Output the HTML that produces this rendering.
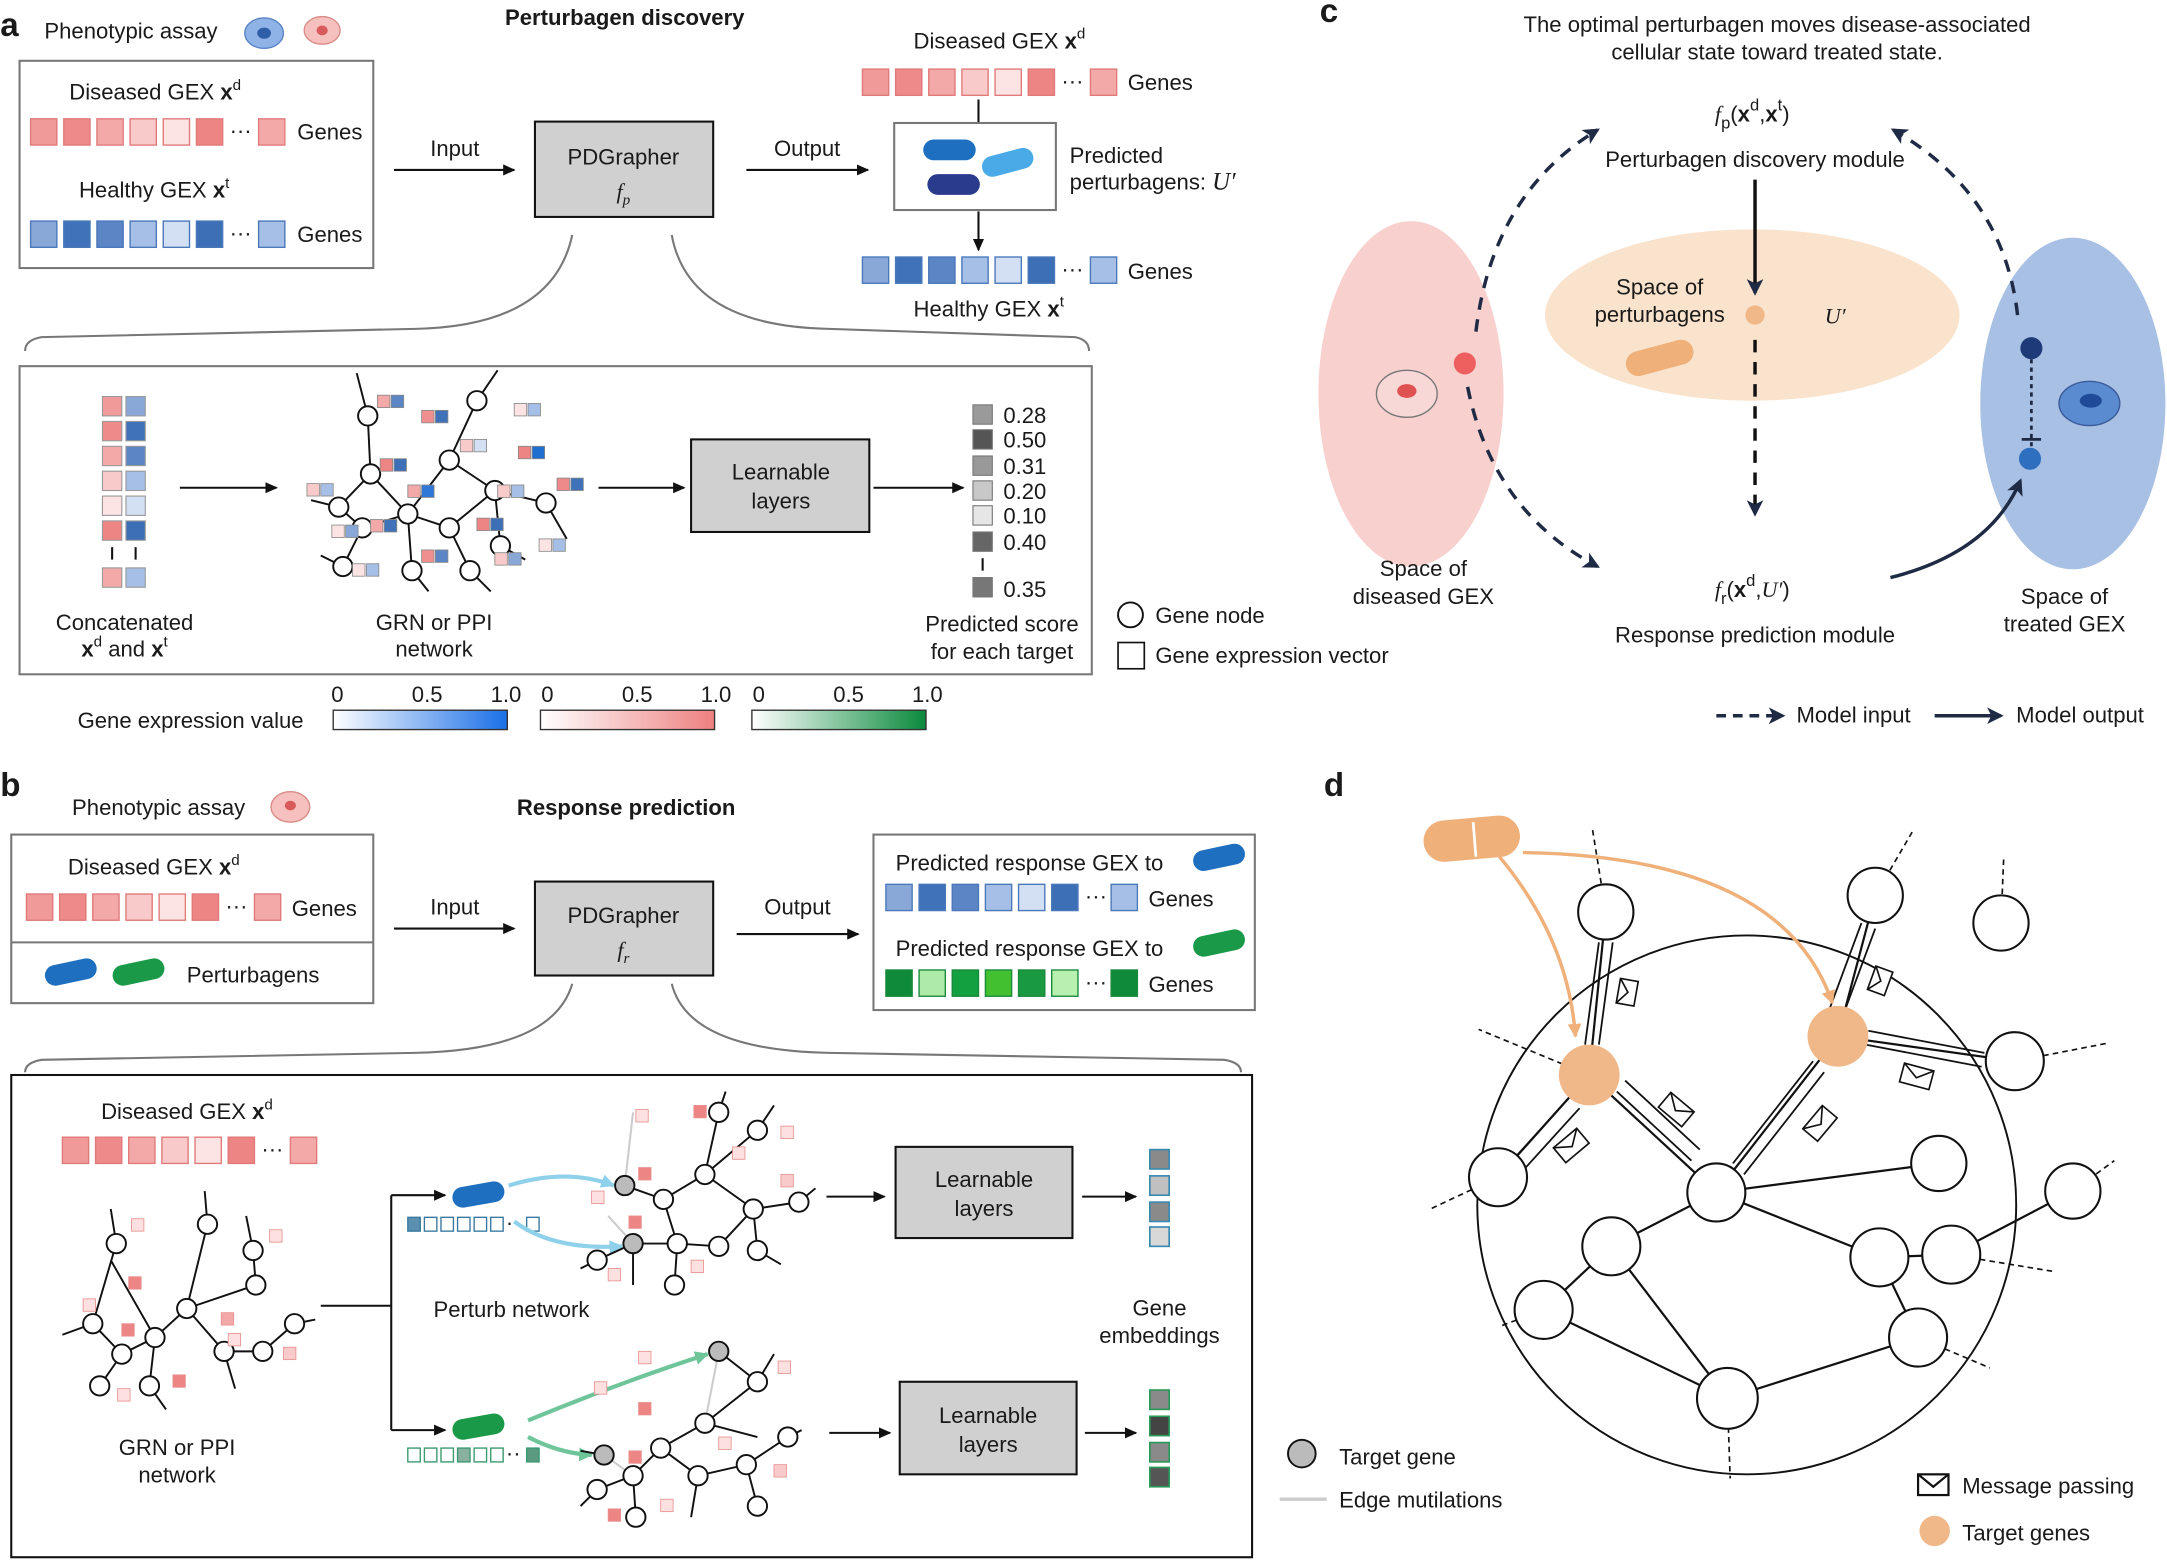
<!DOCTYPE html>
<html><head><meta charset="utf-8"><style>
html,body{margin:0;padding:0;background:#fff}
svg{display:block}
text{font-family:"Liberation Sans",sans-serif;font-size:16px;fill:#1a1a1a}
.b{font-weight:bold}
.c{text-anchor:middle}
.L{font-size:24px;font-weight:bold}
.u{font-family:"Liberation Serif",serif;font-style:italic}
</style></head><body>
<svg width="2167" height="1560" viewBox="0 0 1568 1129" xmlns="http://www.w3.org/2000/svg">
<defs>
<marker id="ah" markerWidth="10" markerHeight="10" refX="8" refY="5" orient="auto" markerUnits="userSpaceOnUse"><path d="M0,1 L9,5 L0,9 z" fill="#111"/></marker>
<marker id="an" markerWidth="14" markerHeight="14" refX="10" refY="6" orient="auto" markerUnits="userSpaceOnUse"><path d="M0,0 L12,6 L0,12 L3,6 z" fill="#1f2a44"/></marker>
<marker id="ap" markerWidth="12" markerHeight="12" refX="9" refY="6" orient="auto" markerUnits="userSpaceOnUse"><path d="M0,1 L10,6 L0,11 z" fill="#efb07a"/></marker>
<marker id="alb" markerWidth="12" markerHeight="12" refX="9" refY="6" orient="auto" markerUnits="userSpaceOnUse"><path d="M0,1 L10,6 L0,11 z" fill="#8fd0ea"/></marker>
<marker id="ag" markerWidth="12" markerHeight="12" refX="9" refY="6" orient="auto" markerUnits="userSpaceOnUse"><path d="M0,1 L10,6 L0,11 z" fill="#6fc59a"/></marker>
<linearGradient id="gb"><stop offset="0" stop-color="#fff"/><stop offset="1" stop-color="#1a6fe8"/></linearGradient>
<linearGradient id="gp"><stop offset="0" stop-color="#fff"/><stop offset="1" stop-color="#ee8080"/></linearGradient>
<linearGradient id="gg"><stop offset="0" stop-color="#fff"/><stop offset="1" stop-color="#0a8a3c"/></linearGradient>
</defs>

<!-- ===== Panel a ===== -->
<text x="0" y="26" class="L">a</text>
<text x="32" y="28">Phenotypic assay</text>
<ellipse cx="191" cy="24" rx="14" ry="11" fill="#8fb3e6" stroke="#5a85c5"/><ellipse cx="191" cy="24" rx="5" ry="4" fill="#2f5ea8"/>
<ellipse cx="233" cy="22" rx="13" ry="10" fill="#f5c0bd" stroke="#d98c88"/><ellipse cx="233" cy="22" rx="4" ry="3.5" fill="#d85a5a"/>
<text x="452" y="18" class="b c">Perturbagen discovery</text>

<rect x="14" y="44" width="256" height="150" fill="none" stroke="#777" stroke-width="1.5"/>
<text x="50" y="72">Diseased GEX <tspan class="b">x</tspan><tspan font-size="11" dy="-7">d</tspan></text>
<g stroke="#e07a7a" stroke-width="1">
<rect x="22" y="86" width="19" height="19" fill="#f09a9a"/><rect x="46" y="86" width="19" height="19" fill="#ee8a8a"/><rect x="70" y="86" width="19" height="19" fill="#f4a9a9"/><rect x="94" y="86" width="19" height="19" fill="#f8caca"/><rect x="118" y="86" width="19" height="19" fill="#fde4e4"/><rect x="142" y="86" width="19" height="19" fill="#ee8585"/><rect x="187" y="86" width="19" height="19" fill="#f4a9a9"/></g>
<text x="166" y="100">···</text><text x="215" y="101">Genes</text>
<text x="57" y="143">Healthy GEX <tspan class="b">x</tspan><tspan font-size="11" dy="-7">t</tspan></text>
<g stroke="#4a78bb" stroke-width="1">
<rect x="22" y="160" width="19" height="19" fill="#89a8d8"/><rect x="46" y="160" width="19" height="19" fill="#3f72b8"/><rect x="70" y="160" width="19" height="19" fill="#5b85c5"/><rect x="94" y="160" width="19" height="19" fill="#a6bfe6"/><rect x="118" y="160" width="19" height="19" fill="#d3e0f4"/><rect x="142" y="160" width="19" height="19" fill="#3c6fb5"/><rect x="187" y="160" width="19" height="19" fill="#a6bfe6"/></g>
<text x="166" y="174">···</text><text x="215" y="175">Genes</text>

<line x1="285" y1="123" x2="372" y2="123" stroke="#111" stroke-width="1.5" marker-end="url(#ah)"/>
<text x="329" y="113" class="c">Input</text>
<rect x="387" y="88" width="129" height="69" fill="#d0d0d0" stroke="#111" stroke-width="1.5"/>
<text x="451" y="119" class="c">PDGrapher</text><text x="451" y="144" class="c u">f<tspan font-size="11" dy="4">p</tspan></text>
<line x1="540" y1="123" x2="628" y2="123" stroke="#111" stroke-width="1.5" marker-end="url(#ah)"/>
<text x="584" y="113" class="c">Output</text>

<text x="661" y="35">Diseased GEX <tspan class="b">x</tspan><tspan font-size="11" dy="-7">d</tspan></text>
<g stroke="#e07a7a"><rect x="624" y="50" width="19" height="19" fill="#f09a9a"/><rect x="648" y="50" width="19" height="19" fill="#ee8a8a"/><rect x="672" y="50" width="19" height="19" fill="#f4a9a9"/><rect x="696" y="50" width="19" height="19" fill="#f8caca"/><rect x="720" y="50" width="19" height="19" fill="#fde4e4"/><rect x="744" y="50" width="19" height="19" fill="#ee8585"/><rect x="789" y="50" width="19" height="19" fill="#f4a9a9"/></g>
<text x="768" y="64">···</text><text x="816" y="65">Genes</text>
<line x1="708" y1="72" x2="708" y2="89" stroke="#111" stroke-width="1.5"/>
<rect x="647" y="89" width="117" height="63" fill="#fff" stroke="#777" stroke-width="1.5"/>
<rect x="668" y="101" width="38" height="15" rx="7.5" fill="#1e6fc0"/><rect x="710" y="110" width="38" height="15" rx="7.5" fill="#4aaae8" transform="rotate(-15 729 117)"/><rect x="671" y="126" width="38" height="15" rx="7.5" fill="#2a3a8c"/>
<text x="774" y="118">Predicted</text><text x="774" y="137">perturbagens: <tspan class="u" font-size="18">U′</tspan></text>
<line x1="708" y1="153" x2="708" y2="181" stroke="#111" stroke-width="1.5" marker-end="url(#ah)"/>
<g stroke="#4a78bb"><rect x="624" y="186" width="19" height="19" fill="#89a8d8"/><rect x="648" y="186" width="19" height="19" fill="#3f72b8"/><rect x="672" y="186" width="19" height="19" fill="#5b85c5"/><rect x="696" y="186" width="19" height="19" fill="#a6bfe6"/><rect x="720" y="186" width="19" height="19" fill="#d3e0f4"/><rect x="744" y="186" width="19" height="19" fill="#3c6fb5"/><rect x="789" y="186" width="19" height="19" fill="#a6bfe6"/></g>
<text x="768" y="200">···</text><text x="816" y="202">Genes</text>
<text x="661" y="229">Healthy GEX <tspan class="b">x</tspan><tspan font-size="11" dy="-7">t</tspan></text>

<path d="M414,170 Q400,236 300,238 L30,244 Q18,246 18,254" fill="none" stroke="#777" stroke-width="1.5"/>
<path d="M486,170 Q498,236 600,238 L778,244 Q788,246 788,254" fill="none" stroke="#777" stroke-width="1.5"/>
<rect x="14" y="265" width="776" height="223" fill="none" stroke="#777" stroke-width="1.5"/>

<g stroke="#999" stroke-width="0.8">
<rect x="74" y="287" width="14" height="14" fill="#f09a9a"/><rect x="91" y="287" width="14" height="14" fill="#89a8d8"/>
<rect x="74" y="305" width="14" height="14" fill="#ee8a8a"/><rect x="91" y="305" width="14" height="14" fill="#3f72b8"/>
<rect x="74" y="323" width="14" height="14" fill="#f4a9a9"/><rect x="91" y="323" width="14" height="14" fill="#5b85c5"/>
<rect x="74" y="341" width="14" height="14" fill="#f8caca"/><rect x="91" y="341" width="14" height="14" fill="#a6bfe6"/>
<rect x="74" y="359" width="14" height="14" fill="#fde4e4"/><rect x="91" y="359" width="14" height="14" fill="#d3e0f4"/>
<rect x="74" y="377" width="14" height="14" fill="#ee8585"/><rect x="91" y="377" width="14" height="14" fill="#3c6fb5"/>
<rect x="74" y="411" width="14" height="14" fill="#f4a9a9"/><rect x="91" y="411" width="14" height="14" fill="#a6bfe6"/></g>
<line x1="81" y1="396" x2="81" y2="405" stroke="#111" stroke-width="1.5"/><line x1="98" y1="396" x2="98" y2="405" stroke="#111" stroke-width="1.5"/>
<text x="90" y="456" class="c">Concatenated</text><text x="90" y="475" class="c"><tspan class="b">x</tspan><tspan font-size="11" dy="-7">d</tspan><tspan dy="7"> and </tspan><tspan class="b">x</tspan><tspan font-size="11" dy="-7">t</tspan></text>
<line x1="130" y1="353" x2="200" y2="353" stroke="#111" stroke-width="1.5" marker-end="url(#ah)"/>

<g stroke="#111" stroke-width="1.4" fill="none">
<path d="M266,301 L268,343 L245,367 L262,382 L295,372 L325,333 L345,290 M325,333 L358,355 L395,364 M295,372 L325,382 L340,413 M295,372 L298,413 M262,382 L248,410 M268,343 L295,372 M325,382 L358,355 M358,355 L362,395 M245,367 L225,362 M266,301 L258,270 M345,290 L360,268 M395,364 L410,390 M248,410 L232,402 M298,413 L310,428 M340,413 L355,428 M362,395 L380,405"/>
</g>
<g fill="#fff" stroke="#111" stroke-width="1.4">
<circle cx="266" cy="301" r="7"/><circle cx="268" cy="343" r="7"/><circle cx="245" cy="367" r="7"/><circle cx="262" cy="382" r="7"/><circle cx="295" cy="372" r="7"/><circle cx="325" cy="333" r="7"/><circle cx="345" cy="290" r="7"/><circle cx="358" cy="355" r="7"/><circle cx="395" cy="364" r="7"/><circle cx="325" cy="382" r="7"/><circle cx="340" cy="413" r="7"/><circle cx="298" cy="413" r="7"/><circle cx="248" cy="410" r="7"/><circle cx="362" cy="395" r="7"/></g>
<g stroke="#888" stroke-width="0.6">
<rect x="273" y="286" width="9" height="9" fill="#f4a9a9"/><rect x="283" y="286" width="9" height="9" fill="#5b85c5"/>
<rect x="305" y="297" width="9" height="9" fill="#f08f8f"/><rect x="315" y="297" width="9" height="9" fill="#3f72b8"/>
<rect x="372" y="292" width="9" height="9" fill="#fde4e4"/><rect x="382" y="292" width="9" height="9" fill="#a6bfe6"/>
<rect x="333" y="318" width="9" height="9" fill="#f8caca"/><rect x="343" y="318" width="9" height="9" fill="#d3e0f4"/>
<rect x="375" y="323" width="9" height="9" fill="#ee8585"/><rect x="385" y="323" width="9" height="9" fill="#1e6fd0"/>
<rect x="275" y="332" width="9" height="9" fill="#ee8585"/><rect x="285" y="332" width="9" height="9" fill="#3c6fb5"/>
<rect x="222" y="350" width="9" height="9" fill="#f8caca"/><rect x="232" y="350" width="9" height="9" fill="#a6bfe6"/>
<rect x="295" y="351" width="9" height="9" fill="#f4a9a9"/><rect x="305" y="351" width="9" height="9" fill="#2f78d8"/>
<rect x="360" y="351" width="9" height="9" fill="#f8caca"/><rect x="370" y="351" width="9" height="9" fill="#a6bfe6"/>
<rect x="403" y="346" width="9" height="9" fill="#ee8a8a"/><rect x="413" y="346" width="9" height="9" fill="#3f72b8"/>
<rect x="240" y="380" width="9" height="9" fill="#fde4e4"/><rect x="250" y="380" width="9" height="9" fill="#89a8d8"/>
<rect x="268" y="376" width="9" height="9" fill="#f4a9a9"/><rect x="278" y="376" width="9" height="9" fill="#3f72b8"/>
<rect x="345" y="375" width="9" height="9" fill="#ee8585"/><rect x="355" y="375" width="9" height="9" fill="#3c6fb5"/>
<rect x="390" y="390" width="9" height="9" fill="#fde4e4"/><rect x="400" y="390" width="9" height="9" fill="#a6bfe6"/>
<rect x="305" y="398" width="9" height="9" fill="#f08f8f"/><rect x="315" y="398" width="9" height="9" fill="#5b85c5"/>
<rect x="358" y="400" width="9" height="9" fill="#f8caca"/><rect x="368" y="400" width="9" height="9" fill="#89a8d8"/>
<rect x="255" y="408" width="9" height="9" fill="#fde4e4"/><rect x="265" y="408" width="9" height="9" fill="#a6bfe6"/></g>
<text x="314" y="456" class="c">GRN or PPI</text><text x="314" y="475" class="c">network</text>
<line x1="433" y1="353" x2="495" y2="353" stroke="#111" stroke-width="1.5" marker-end="url(#ah)"/>
<rect x="500" y="318" width="129" height="67" fill="#d0d0d0" stroke="#111" stroke-width="1.5"/>
<text x="565" y="347" class="c">Learnable</text><text x="565" y="368" class="c">layers</text>
<line x1="632" y1="353" x2="697" y2="353" stroke="#111" stroke-width="1.5" marker-end="url(#ah)"/>
<g stroke="#777" stroke-width="0.8">
<rect x="704" y="293" width="14" height="14" fill="#9a9a9a"/><rect x="704" y="311" width="14" height="14" fill="#555"/><rect x="704" y="330" width="14" height="14" fill="#999"/><rect x="704" y="348" width="14" height="14" fill="#c8c8c8"/><rect x="704" y="366" width="14" height="14" fill="#e6e6e6"/><rect x="704" y="385" width="14" height="14" fill="#666"/><rect x="704" y="418" width="14" height="14" fill="#777"/></g>
<line x1="711" y1="404" x2="711" y2="413" stroke="#111" stroke-width="1.5"/>
<text x="726" y="306">0.28</text><text x="726" y="324">0.50</text><text x="726" y="343">0.31</text><text x="726" y="361">0.20</text><text x="726" y="379">0.10</text><text x="726" y="398">0.40</text><text x="726" y="432">0.35</text>
<text x="725" y="457" class="c">Predicted score</text><text x="725" y="477" class="c">for each target</text>
<circle cx="818" cy="445" r="9" fill="#fff" stroke="#111" stroke-width="1.4"/><text x="836" y="451">Gene node</text>
<rect x="809" y="465" width="19" height="19" fill="#fff" stroke="#111" stroke-width="1.2"/><text x="836" y="480">Gene expression vector</text>
<text x="56" y="527">Gene expression value</text>
<rect x="241" y="514" width="126" height="14" fill="url(#gb)" stroke="#333"/>
<rect x="391" y="514" width="126" height="14" fill="url(#gp)" stroke="#333"/>
<rect x="544" y="514" width="126" height="14" fill="url(#gg)" stroke="#333"/>
<text x="244" y="508" class="c">0</text><text x="309" y="508" class="c">0.5</text><text x="366" y="508" class="c">1.0</text>
<text x="396" y="508" class="c">0</text><text x="461" y="508" class="c">0.5</text><text x="518" y="508" class="c">1.0</text>
<text x="549" y="508" class="c">0</text><text x="614" y="508" class="c">0.5</text><text x="671" y="508" class="c">1.0</text>

<!-- ===== Panel c ===== -->
<text x="955" y="16" class="L">c</text>
<text x="1286" y="23" class="c">The optimal perturbagen moves disease-associated</text>
<text x="1286" y="43" class="c">cellular state toward treated state.</text>
<ellipse cx="1021" cy="285" rx="67" ry="125" fill="#f8d0ce"/>
<ellipse cx="1500" cy="292" rx="67" ry="120" fill="#a8c0e4"/>
<ellipse cx="1268" cy="228" rx="150" ry="62" fill="#fae3cc"/>
<text x="1268" y="88" class="c" font-size="20"><tspan class="u">f</tspan><tspan font-size="12" dy="5">p</tspan><tspan dy="-5">(</tspan><tspan class="b">x</tspan><tspan font-size="12" dy="-8">d</tspan><tspan dy="8">,</tspan><tspan class="b">x</tspan><tspan font-size="12" dy="-8">t</tspan><tspan dy="8">)</tspan></text>
<text x="1270" y="121" class="c">Perturbagen discovery module</text>
<path d="M1068,240 Q1080,140 1156,94" fill="none" stroke="#1f2a44" stroke-width="2.5" stroke-dasharray="9,7" marker-end="url(#an)"/>
<path d="M1460,228 Q1450,140 1370,94" fill="none" stroke="#1f2a44" stroke-width="2.5" stroke-dasharray="9,7" marker-end="url(#an)"/>
<path d="M1062,280 Q1080,370 1156,410" fill="none" stroke="#1f2a44" stroke-width="2.5" stroke-dasharray="9,7" marker-end="url(#an)"/>
<line x1="1270" y1="130" x2="1270" y2="212" stroke="#111" stroke-width="2.5" marker-end="url(#an)"/>
<line x1="1270" y1="246" x2="1270" y2="372" stroke="#111" stroke-width="2.5" stroke-dasharray="9,7" marker-end="url(#an)"/>
<circle cx="1270" cy="228" r="7" fill="#f0b888"/>
<text x="1201" y="213" class="c">Space of</text><text x="1201" y="233" class="c">perturbagens</text>
<text x="1328" y="234" class="c u" font-size="19">U′</text>
<rect x="1176" y="250" width="50" height="18" rx="9" fill="#efb07a" transform="rotate(-15 1201 259)"/>
<circle cx="1060" cy="263" r="8" fill="#ee6060"/>
<ellipse cx="1018" cy="285" rx="22" ry="17" fill="#f8d8d6" stroke="#777"/><ellipse cx="1018" cy="283" rx="7" ry="5" fill="#e05252"/>
<text x="1030" y="417" class="c">Space of</text><text x="1030" y="437" class="c">diseased GEX</text>
<text x="1268" y="432" class="c" font-size="20"><tspan class="u">f</tspan><tspan font-size="12" dy="5">r</tspan><tspan dy="-5">(</tspan><tspan class="b">x</tspan><tspan font-size="12" dy="-8">d</tspan><tspan dy="8">,</tspan><tspan class="u">U′</tspan><tspan>)</tspan></text>
<text x="1270" y="465" class="c">Response prediction module</text>
<path d="M1368,418 Q1440,400 1462,348" fill="none" stroke="#1f2a44" stroke-width="2.5" marker-end="url(#an)"/>
<line x1="1470" y1="260" x2="1470" y2="324" stroke="#1f2a44" stroke-width="2" stroke-dasharray="3,3"/>
<line x1="1463" y1="318" x2="1477" y2="318" stroke="#1f2a44" stroke-width="2"/>
<circle cx="1470" cy="252" r="8" fill="#1f3a78"/><circle cx="1469" cy="332" r="8" fill="#2f6fc0"/>
<ellipse cx="1512" cy="292" rx="22" ry="16" fill="#5a8ad0" stroke="#3a5a9a"/><ellipse cx="1513" cy="290" rx="8" ry="5" fill="#1f4a98"/>
<text x="1494" y="437" class="c">Space of</text><text x="1494" y="457" class="c">treated GEX</text>
<line x1="1242" y1="518" x2="1290" y2="518" stroke="#1f2a44" stroke-width="2.5" stroke-dasharray="7,5" marker-end="url(#an)"/>
<text x="1300" y="523">Model input</text>
<line x1="1400" y1="518" x2="1448" y2="518" stroke="#1f2a44" stroke-width="2.5" marker-end="url(#an)"/>
<text x="1459" y="523">Model output</text>

<!-- ===== Panel b ===== -->
<text x="0" y="576" class="L">b</text>
<text x="52" y="590">Phenotypic assay</text>
<ellipse cx="210" cy="584" rx="14" ry="11" fill="#f5c0bd" stroke="#d98c88"/><ellipse cx="210" cy="583" rx="4" ry="3.5" fill="#d85a5a"/>
<text x="453" y="590" class="b c">Response prediction</text>
<rect x="8" y="604" width="262" height="122" fill="none" stroke="#777" stroke-width="1.5"/>
<line x1="8" y1="682" x2="270" y2="682" stroke="#777" stroke-width="1.5"/>
<text x="49" y="633">Diseased GEX <tspan class="b">x</tspan><tspan font-size="11" dy="-7">d</tspan></text>
<g stroke="#e07a7a"><rect x="19" y="647" width="19" height="19" fill="#f09a9a"/><rect x="43" y="647" width="19" height="19" fill="#ee8a8a"/><rect x="67" y="647" width="19" height="19" fill="#f4a9a9"/><rect x="91" y="647" width="19" height="19" fill="#f8caca"/><rect x="115" y="647" width="19" height="19" fill="#fde4e4"/><rect x="139" y="647" width="19" height="19" fill="#ee8585"/><rect x="184" y="647" width="19" height="19" fill="#f4a9a9"/></g>
<text x="163" y="661">···</text><text x="211" y="663">Genes</text>
<rect x="32" y="696" width="38" height="15" rx="7.5" fill="#1e6fc0" transform="rotate(-12 51 703)"/>
<rect x="81" y="696" width="38" height="15" rx="7.5" fill="#1a9a48" transform="rotate(-12 100 703)"/>
<text x="135" y="711">Perturbagens</text>
<line x1="285" y1="672" x2="372" y2="672" stroke="#111" stroke-width="1.5" marker-end="url(#ah)"/>
<text x="329" y="662" class="c">Input</text>
<rect x="387" y="638" width="129" height="68" fill="#d0d0d0" stroke="#111" stroke-width="1.5"/>
<text x="451" y="668" class="c">PDGrapher</text><text x="451" y="693" class="c u">f<tspan font-size="11" dy="4">r</tspan></text>
<line x1="533" y1="676" x2="621" y2="676" stroke="#111" stroke-width="1.5" marker-end="url(#ah)"/>
<text x="577" y="662" class="c">Output</text>
<rect x="632" y="604" width="276" height="127" fill="none" stroke="#777" stroke-width="1.5"/>
<text x="648" y="630">Predicted response GEX to</text>
<rect x="863" y="613" width="38" height="15" rx="7.5" fill="#1e6fc0" transform="rotate(-12 882 620)"/>
<g stroke="#4a78bb"><rect x="641" y="640" width="19" height="19" fill="#89a8d8"/><rect x="665" y="640" width="19" height="19" fill="#3f72b8"/><rect x="689" y="640" width="19" height="19" fill="#5b85c5"/><rect x="713" y="640" width="19" height="19" fill="#a6bfe6"/><rect x="737" y="640" width="19" height="19" fill="#d3e0f4"/><rect x="761" y="640" width="19" height="19" fill="#3c6fb5"/><rect x="804" y="640" width="19" height="19" fill="#a6bfe6"/></g>
<text x="785" y="654">···</text><text x="831" y="656">Genes</text>
<text x="648" y="692">Predicted response GEX to</text>
<rect x="863" y="675" width="38" height="15" rx="7.5" fill="#1a9a48" transform="rotate(-12 882 682)"/>
<g stroke="#1a8a3c"><rect x="641" y="702" width="19" height="19" fill="#0f8a3a"/><rect x="665" y="702" width="19" height="19" fill="#aeeaa8"/><rect x="689" y="702" width="19" height="19" fill="#12a040"/><rect x="713" y="702" width="19" height="19" fill="#42c030"/><rect x="737" y="702" width="19" height="19" fill="#1a9a40"/><rect x="761" y="702" width="19" height="19" fill="#b8f0b0"/><rect x="804" y="702" width="19" height="19" fill="#0f8a3a"/></g>
<text x="785" y="716">···</text><text x="831" y="718">Genes</text>

<path d="M414,712 Q400,760 300,762 L30,767 Q18,769 18,776" fill="none" stroke="#777" stroke-width="1.5"/>
<path d="M486,712 Q498,760 600,762 L886,767 Q898,769 898,776" fill="none" stroke="#777" stroke-width="1.5"/>
<rect x="8" y="778" width="898" height="349" fill="none" stroke="#111" stroke-width="1.5"/>
<text x="73" y="810">Diseased GEX <tspan class="b">x</tspan><tspan font-size="11" dy="-7">d</tspan></text>
<g stroke="#e07a7a"><rect x="45" y="823" width="19" height="19" fill="#f09a9a"/><rect x="69" y="823" width="19" height="19" fill="#ee8a8a"/><rect x="93" y="823" width="19" height="19" fill="#f4a9a9"/><rect x="117" y="823" width="19" height="19" fill="#f8caca"/><rect x="141" y="823" width="19" height="19" fill="#fde4e4"/><rect x="165" y="823" width="19" height="19" fill="#ee8585"/><rect x="210" y="823" width="19" height="19" fill="#f4a9a9"/></g>
<text x="189" y="837">···</text>

<g stroke="#111" stroke-width="1.4" fill="none">
<path d="M84,900 L67,958 L88,980 L112,968 L135,947 L150,886 M112,968 L80,912 M135,947 L185,930 L183,905 M135,947 L162,978 L190,978 L213,958 M88,980 L72,1003 M112,968 L108,1003 M150,886 L148,862 M84,900 L80,875 M213,958 L228,955 M183,905 L178,880 M67,958 L45,966 M108,1003 L120,1020 M162,978 L170,1005"/></g>
<g fill="#fff" stroke="#111" stroke-width="1.4">
<circle cx="84" cy="900" r="7"/><circle cx="150" cy="886" r="7"/><circle cx="67" cy="958" r="7"/><circle cx="88" cy="980" r="7"/><circle cx="112" cy="968" r="7"/><circle cx="135" cy="947" r="7"/><circle cx="185" cy="930" r="7"/><circle cx="183" cy="905" r="7"/><circle cx="162" cy="978" r="7"/><circle cx="190" cy="978" r="7"/><circle cx="213" cy="958" r="7"/><circle cx="72" cy="1003" r="7"/><circle cx="108" cy="1003" r="7"/></g>
<g stroke="#e89090" stroke-width="0.6"><rect x="95" y="882" width="9" height="9" fill="#fde0e0"/><rect x="93" y="924" width="9" height="9" fill="#ee8585"/><rect x="60" y="940" width="9" height="9" fill="#fde0e0"/><rect x="195" y="890" width="9" height="9" fill="#fde0e0"/><rect x="160" y="950" width="9" height="9" fill="#f4a9a9"/><rect x="205" y="975" width="9" height="9" fill="#f8caca"/><rect x="125" y="995" width="9" height="9" fill="#ee8585"/><rect x="85" y="1005" width="9" height="9" fill="#fde0e0"/><rect x="165" y="965" width="9" height="9" fill="#fde0e0"/><rect x="88" y="958" width="9" height="9" fill="#ee8585"/></g>
<text x="128" y="1053" class="c">GRN or PPI</text><text x="128" y="1073" class="c">network</text>

<path d="M232,945 L283,945 M283,865 L283,1035" fill="none" stroke="#111" stroke-width="1.5"/>
<line x1="283" y1="865" x2="322" y2="865" stroke="#111" stroke-width="1.5" marker-end="url(#ah)"/>
<line x1="283" y1="1035" x2="322" y2="1035" stroke="#111" stroke-width="1.5" marker-end="url(#ah)"/>
<rect x="327" y="857" width="38" height="15" rx="7.5" fill="#1e6fc0" transform="rotate(-10 346 864)"/>
<g fill="#fff" stroke="#3a7aa0" stroke-width="1"><rect x="295" y="881" width="9" height="10" fill="#5b8fb0"/><rect x="307" y="881" width="9" height="10"/><rect x="319" y="881" width="9" height="10"/><rect x="331" y="881" width="9" height="10"/><rect x="343" y="881" width="9" height="10"/><rect x="355" y="881" width="9" height="10"/><rect x="381" y="881" width="9" height="10"/></g>
<text x="366" y="890" font-size="12">··</text>
<path d="M368,858 Q410,845 444,858" fill="none" stroke="#8fd0ea" stroke-width="3" marker-end="url(#alb)"/>
<path d="M372,884 Q400,905 450,902" fill="none" stroke="#8fd0ea" stroke-width="3" marker-end="url(#alb)"/>
<g stroke="#111" stroke-width="1.4" fill="none">
<path d="M452,858 L480,868 L510,850 L520,805 M510,850 L548,818 M510,850 L545,875 L578,870 M545,875 L548,905 M480,868 L490,900 L458,900 L432,912 M490,900 L520,902 M545,875 L520,902 M458,900 L458,930 M490,900 L488,930 M548,905 L565,915 M578,870 L590,860 M432,912 L420,918 M548,818 L560,800 M520,805 L525,790"/></g>
<line x1="452" y1="858" x2="458" y2="805" stroke="#ccc" stroke-width="1.5"/><line x1="458" y1="900" x2="440" y2="880" stroke="#ccc" stroke-width="1.5"/>
<g fill="#fff" stroke="#111" stroke-width="1.4"><circle cx="480" cy="868" r="7"/><circle cx="510" cy="850" r="7"/><circle cx="520" cy="805" r="7"/><circle cx="548" cy="818" r="7"/><circle cx="545" cy="875" r="7"/><circle cx="578" cy="870" r="7"/><circle cx="548" cy="905" r="7"/><circle cx="490" cy="900" r="7"/><circle cx="520" cy="902" r="7"/><circle cx="432" cy="912" r="7"/><circle cx="488" cy="930" r="7"/></g>
<circle cx="452" cy="858" r="7" fill="#bbb" stroke="#111" stroke-width="1.4"/><circle cx="458" cy="900" r="7" fill="#bbb" stroke="#111" stroke-width="1.4"/>
<g stroke="#e89090" stroke-width="0.6"><rect x="460" y="803" width="9" height="9" fill="#fde0e0"/><rect x="502" y="800" width="9" height="9" fill="#ee8585"/><rect x="530" y="830" width="9" height="9" fill="#fde0e0"/><rect x="565" y="815" width="9" height="9" fill="#fde0e0"/><rect x="462" y="845" width="9" height="9" fill="#ee8585"/><rect x="428" y="862" width="9" height="9" fill="#fde0e0"/><rect x="455" y="880" width="9" height="9" fill="#ee8585"/><rect x="565" y="850" width="9" height="9" fill="#f8caca"/><rect x="500" y="912" width="9" height="9" fill="#fde0e0"/><rect x="440" y="918" width="9" height="9" fill="#fde0e0"/></g>
<text x="370" y="953" class="c">Perturb network</text>
<line x1="598" y1="866" x2="640" y2="866" stroke="#111" stroke-width="1.5" marker-end="url(#ah)"/>
<rect x="648" y="830" width="128" height="66" fill="#d0d0d0" stroke="#111" stroke-width="1.5"/>
<text x="712" y="859" class="c">Learnable</text><text x="712" y="880" class="c">layers</text>
<line x1="783" y1="866" x2="822" y2="866" stroke="#111" stroke-width="1.5" marker-end="url(#ah)"/>
<g stroke="#3a8ab0" stroke-width="1.2"><rect x="832" y="832" width="14" height="14" fill="#8a8a8a"/><rect x="832" y="851" width="14" height="14" fill="#c0c0c0"/><rect x="832" y="870" width="14" height="14" fill="#8a8a8a"/><rect x="832" y="888" width="14" height="14" fill="#d8d8d8"/></g>
<text x="839" y="952" class="c">Gene</text><text x="839" y="972" class="c">embeddings</text>

<rect x="327" y="1025" width="38" height="15" rx="7.5" fill="#1a9a48" transform="rotate(-10 346 1032)"/>
<g fill="#fff" stroke="#3a9a70" stroke-width="1"><rect x="295" y="1048" width="9" height="10"/><rect x="307" y="1048" width="9" height="10"/><rect x="319" y="1048" width="9" height="10"/><rect x="331" y="1048" width="9" height="10" fill="#8ab0a0"/><rect x="343" y="1048" width="9" height="10"/><rect x="355" y="1048" width="9" height="10"/><rect x="381" y="1048" width="9" height="10" fill="#5a9a80"/></g>
<text x="366" y="1057" font-size="12">··</text>
<path d="M382,1028 Q450,1000 512,980" fill="none" stroke="#6fc59a" stroke-width="3" marker-end="url(#ag)"/>
<path d="M382,1040 Q405,1052 428,1053" fill="none" stroke="#6fc59a" stroke-width="3" marker-end="url(#ag)"/>
<g stroke="#111" stroke-width="1.4" fill="none">
<path d="M520,978 L548,1000 M548,1000 L510,1030 L478,1048 L458,1068 L432,1078 M478,1048 L505,1068 L540,1060 L570,1040 M540,1060 L548,1090 M505,1068 L500,1098 M458,1068 L460,1098 M510,1030 L548,1040 M548,1000 L560,980 M570,1040 L580,1035 M437,1053 L420,1050 M432,1078 L420,1090"/></g>
<line x1="520" y1="978" x2="510" y2="1030" stroke="#ccc" stroke-width="1.5"/><line x1="437" y1="1053" x2="458" y2="1068" stroke="#ccc" stroke-width="1.5"/>
<g fill="#fff" stroke="#111" stroke-width="1.4"><circle cx="548" cy="1000" r="7"/><circle cx="510" cy="1030" r="7"/><circle cx="478" cy="1048" r="7"/><circle cx="458" cy="1068" r="7"/><circle cx="432" cy="1078" r="7"/><circle cx="505" cy="1068" r="7"/><circle cx="540" cy="1060" r="7"/><circle cx="570" cy="1040" r="7"/><circle cx="548" cy="1090" r="7"/><circle cx="460" cy="1098" r="7"/></g>
<circle cx="520" cy="978" r="7" fill="#bbb" stroke="#111" stroke-width="1.4"/><circle cx="437" cy="1053" r="7" fill="#bbb" stroke="#111" stroke-width="1.4"/>
<g stroke="#e89090" stroke-width="0.6"><rect x="462" y="978" width="9" height="9" fill="#fde0e0"/><rect x="430" y="1000" width="9" height="9" fill="#fde0e0"/><rect x="462" y="1015" width="9" height="9" fill="#ee8585"/><rect x="563" y="985" width="9" height="9" fill="#fde0e0"/><rect x="455" y="1050" width="9" height="9" fill="#ee8585"/><rect x="520" y="1040" width="9" height="9" fill="#fde0e0"/><rect x="560" y="1060" width="9" height="9" fill="#f8caca"/><rect x="440" y="1092" width="9" height="9" fill="#ee8585"/><rect x="478" y="1085" width="9" height="9" fill="#fde0e0"/></g>
<line x1="600" y1="1037" x2="644" y2="1037" stroke="#111" stroke-width="1.5" marker-end="url(#ah)"/>
<rect x="651" y="1000" width="128" height="67" fill="#d0d0d0" stroke="#111" stroke-width="1.5"/>
<text x="715" y="1030" class="c">Learnable</text><text x="715" y="1051" class="c">layers</text>
<line x1="785" y1="1037" x2="822" y2="1037" stroke="#111" stroke-width="1.5" marker-end="url(#ah)"/>
<g stroke="#2a9a5a" stroke-width="1.2"><rect x="832" y="1006" width="14" height="14" fill="#8a8a8a"/><rect x="832" y="1025" width="14" height="14" fill="#444"/><rect x="832" y="1044" width="14" height="14" fill="#8a8a8a"/><rect x="832" y="1062" width="14" height="14" fill="#555"/></g>

<!-- ===== Panel d ===== -->
<text x="958" y="576" class="L">d</text>
<circle cx="1264" cy="872" r="195" fill="none" stroke="#111" stroke-width="1.4"/>
<g stroke="#111" stroke-width="1.6" fill="none">
<path d="M1162,660 L1150,778 M1357,648 L1330,750 M1330,750 L1458,768 M1150,778 L1084,852 M1150,778 L1242,863 M1330,750 L1242,863 M1242,863 L1403,842 M1242,863 L1166,902 M1242,863 L1360,910 M1166,902 L1117,948 M1166,902 L1250,1012 M1360,910 L1412,908 M1360,910 L1388,968 M1412,908 L1500,862 M1388,968 L1250,1012 M1117,948 L1250,1012"/>
<path d="M1162,660 L1152,598 M1357,648 L1385,600 M1448,668 L1450,620 M1458,768 L1525,755 M1500,862 L1530,840 M1084,852 L1035,875 M1117,948 L1085,960 M1388,968 L1440,990 M1250,1012 L1252,1070 M1150,778 L1070,745 M1412,908 L1485,920" stroke-dasharray="4,3" stroke-width="1.2"/></g>
<g stroke="#111" stroke-width="1.3" fill="none">
<path d="M1157,682 L1147,756 M1167,682 L1157,756"/><path d="M1347,668 L1324,730 M1357,672 L1334,734"/>
<path d="M1352,746 L1436,762 M1350,756 L1434,772"/><path d="M1135,795 L1096,838 M1143,802 L1104,845"/>
<path d="M1170,790 L1224,840 M1176,782 L1230,832"/><path d="M1312,768 L1254,842 M1320,776 L1262,850"/>
</g>
<g fill="#fff" stroke="#111" stroke-width="1.2">
<g transform="rotate(-80 1177 718)"><rect x="1168" y="712" width="18" height="13"/><path d="M1168,712 L1177,719 L1186,712" fill="none"/></g>
<g transform="rotate(-70 1361 710)"><rect x="1352" y="703" width="18" height="13"/><path d="M1352,703 L1361,710 L1370,703" fill="none"/></g>
<g transform="rotate(15 1387 779)"><rect x="1376" y="772" width="22" height="14"/><path d="M1376,772 L1387,780 L1398,772" fill="none"/></g>
<g transform="rotate(-40 1137 829)"><rect x="1126" y="822" width="22" height="14"/><path d="M1126,822 L1137,830 L1148,822" fill="none"/></g>
<g transform="rotate(40 1213 803)"><rect x="1202" y="796" width="22" height="14"/><path d="M1202,796 L1213,804 L1224,796" fill="none"/></g>
<g transform="rotate(-50 1317 813)"><rect x="1306" y="806" width="22" height="14"/><path d="M1306,806 L1317,814 L1328,806" fill="none"/></g></g>
<g fill="#fff" stroke="#111" stroke-width="1.5">
<circle cx="1162" cy="660" r="20"/><circle cx="1357" cy="648" r="20"/><circle cx="1448" cy="668" r="20"/><circle cx="1458" cy="768" r="21"/><circle cx="1084" cy="852" r="21"/><circle cx="1242" cy="863" r="21"/><circle cx="1403" cy="842" r="20"/><circle cx="1500" cy="862" r="20"/><circle cx="1166" cy="902" r="21"/><circle cx="1360" cy="910" r="21"/><circle cx="1412" cy="908" r="21"/><circle cx="1117" cy="948" r="21"/><circle cx="1388" cy="968" r="21"/><circle cx="1250" cy="1012" r="22"/></g>
<circle cx="1150" cy="778" r="22" fill="#f0b888"/><circle cx="1330" cy="750" r="22" fill="#f0b888"/>
<rect x="1030" y="592" width="70" height="30" rx="15" fill="#efb07a" transform="rotate(-5 1065 607)"/>
<line x1="1066" y1="595" x2="1068" y2="620" stroke="#fff" stroke-width="2"/>
<path d="M1085,620 Q1135,680 1140,750" fill="none" stroke="#efb07a" stroke-width="2.5" marker-end="url(#ap)"/>
<path d="M1102,617 Q1290,620 1326,726" fill="none" stroke="#efb07a" stroke-width="2.5" marker-end="url(#ap)"/>
<circle cx="942" cy="1052" r="10" fill="#bbb" stroke="#111" stroke-width="1.4"/><text x="969" y="1060">Target gene</text>
<line x1="926" y1="1085" x2="960" y2="1085" stroke="#ccc" stroke-width="2.5"/><text x="969" y="1091">Edge mutilations</text>
<rect x="1388" y="1067" width="22" height="15" fill="#fff" stroke="#111" stroke-width="1.6"/><path d="M1388,1067 L1399,1076 L1410,1067" fill="none" stroke="#111" stroke-width="1.6"/>
<text x="1420" y="1081">Message passing</text>
<circle cx="1400" cy="1108" r="11" fill="#f0b888"/><text x="1420" y="1115">Target genes</text>
</svg>
</body></html>
